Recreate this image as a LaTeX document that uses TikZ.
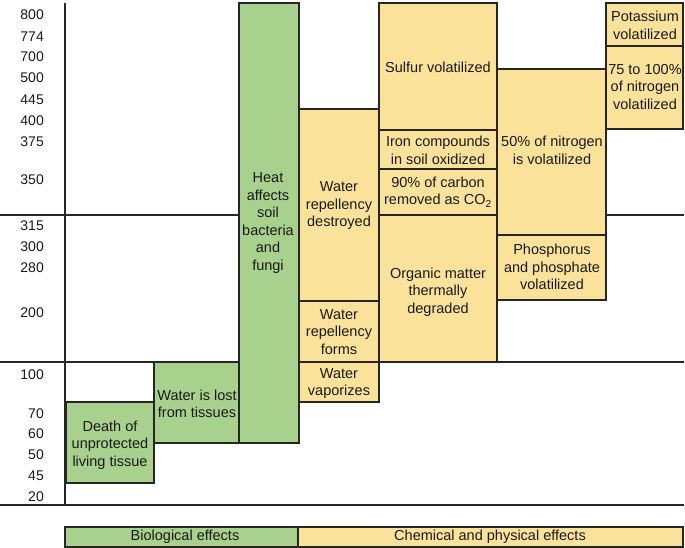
\documentclass[tikz,border=0pt]{standalone}
\usepackage{fontspec}
\setmainfont{Liberation Sans}
\usepackage{tikz}
\usetikzlibrary{calc}
\definecolor{biogreen}{RGB}{169,209,142}
\definecolor{chemyellow}{RGB}{251,226,155}
\colorlet{myline}{black!85}
\tikzstyle{bio}=[fill=biogreen,draw=myline,line width=1.8]
\tikzstyle{chem}=[fill=chemyellow,draw=myline,line width=1.8]
\tikzstyle{txt}=[align=center,font=\fontsize{14.5}{17.5}\selectfont,text=black!90,inner sep=0]
\tikzstyle{tick}=[anchor=east,font=\fontsize{14}{16}\selectfont,text=black!90,inner sep=0]

\begin{document}
\begin{tikzpicture}[x=1pt,y=-1pt]
\useasboundingbox (0,0) rectangle (685,548);

\draw[line width=1.4,myline] (65,3)--(65,505);
\draw[line width=1.4,myline] (0,215)--(684,215);
\draw[line width=1.4,myline] (0,362)--(684,362);
\draw[line width=1.4,myline] (0,505)--(684,505);

% temperatures
\foreach \t/\y in {800/15,774/37,700/57,500/78,445/100,400/121,375/142,350/180,315/226,300/247,280/268,200/313,100/375,70/414,60/434,50/455,45/476,20/497}
  \node[tick] (t\t) at (44,\y) {\t};

\filldraw[bio] (66,402) rectangle (154,483);
\node[txt] (death) at (110,445) {Death of\\unprotected\\living tissue};
\filldraw[bio] (154,362) rectangle (239,443);
\node[txt] (lost) at (197,404) {Water is lost\\from tissues};
\filldraw[bio] (239,3) rectangle (299,443);
\node[txt] (heat) at (268,223) {Heat\\affects\\soil\\bacteria\\and\\fungi};

\filldraw[chem] (299,109) rectangle (379,301);
\node[txt] (destroyed) at (339,206) {Water\\repellency\\destroyed};
\filldraw[chem] (299,301) rectangle (379,362);
\node[txt] (forms) at (339,332) {Water\\repellency\\forms};
\filldraw[chem] (299,362) rectangle (379,402);
\node[txt] (vapor) at (339,383.5) {Water\\vaporizes};

\filldraw[chem] (379,3) rectangle (497,130);
\node[txt] (sulfur) at (438,67) {Sulfur volatilized};
\filldraw[chem] (379,130) rectangle (497,169);
\node[txt] (iron) at (438,150.5) {Iron compounds\\in soil oxidized};
\filldraw[chem] (379,169) rectangle (497,215);
\node[txt] (carbon) at (438,192) {90\% of carbon\\removed as CO\textsubscript{2}};
\filldraw[chem] (379,215) rectangle (497,362);
\node[txt] (organic) at (438,292) {Organic matter\\thermally\\degraded};

\filldraw[chem] (497,69) rectangle (606,235);
\node[txt] (nitrohalf) at (552,150.5) {50\% of nitrogen\\is volatilized};
\filldraw[chem] (497,235) rectangle (606,300);
\node[txt] (phos) at (552,267) {Phosphorus\\and phosphate\\volatilized};

\filldraw[chem] (606,3) rectangle (683,46);
\node[txt] (potassium) at (645,25.5) {Potassium\\volatilized};
\filldraw[chem] (606,46) rectangle (683,129);
\node[txt] (nitrofull) at (645,87) {75 to 100\%\\of nitrogen\\volatilized};

% legend
\filldraw[bio] (65,527) rectangle (298,547);
\node[txt] (biolegend) at (185,537) {Biological effects};
\filldraw[chem] (298,527) rectangle (683,547);
\node[txt] (chemlegend) at (490,537) {Chemical and physical effects};
\end{tikzpicture}
\end{document}
